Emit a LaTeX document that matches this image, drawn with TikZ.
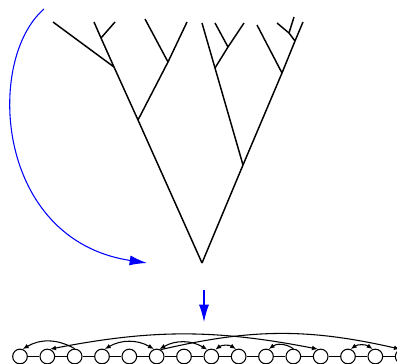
\documentclass[tikz,border=0pt]{standalone}
\usetikzlibrary{arrows.meta,positioning}
\tikzset{
  branch/.style={line width=1.1pt},
  cell/.style={draw,circle,minimum size=11pt,inner sep=0pt,line width=0.8pt},
  link/.style={-{Latex[length=4.5pt,width=3.5pt]},line width=0.8pt},
  twolink/.style={{Latex[length=4.5pt,width=3.5pt]}-{Latex[length=4.5pt,width=3.5pt]},line width=0.8pt},
  maparr/.style={-{Latex[length=13pt,width=7.5pt]},blue,line width=0.8pt}
}
\begin{document}
\begin{tikzpicture}[x=0.75pt,y=-0.75pt,node distance=8.7pt]
\useasboundingbox (0,0) rectangle (397,364);
% the tree
\coordinate (root) at (202,263);
\coordinate (a) at (138,120);
\coordinate (b) at (114,67);
\coordinate (d) at (101,38);
\coordinate (c) at (168,62);
\coordinate (l1) at (53,22);
\coordinate (l2) at (94,22);
\coordinate (l3) at (115,22);
\coordinate (l4) at (145,19);
\coordinate (l5) at (187,22);
\coordinate (f) at (243,165);
\coordinate (e) at (215,68);
\coordinate (j) at (228,47);
\coordinate (g) at (282,73);
\coordinate (h) at (295,41);
\coordinate (i) at (289,33);
\coordinate (l6) at (202,23);
\coordinate (l7) at (215,23);
\coordinate (l8) at (244,23);
\coordinate (l9) at (257,25);
\coordinate (l10) at (277,23);
\coordinate (l11) at (294,17);
\coordinate (l12) at (303,22);
\draw[branch] (root) -- (a) -- (b) -- (d) -- (l2);
\draw[branch] (b) -- (l1);
\draw[branch] (d) -- (l3);
\draw[branch] (a) -- (c) -- (l5);
\draw[branch] (c) -- (l4);
\draw[branch] (root) -- (f) -- (g) -- (h) -- (l12);
\draw[branch] (f) -- (e) -- (l6);
\draw[branch] (e) -- (j) -- (l8);
\draw[branch] (j) -- (l7);
\draw[branch] (g) -- (l9);
\draw[branch] (h) -- (i) -- (l10);
\draw[branch] (i) -- (l11);

% mapping arrows
\coordinate (from) at (44,9);
\coordinate (to) at (147,263);
\draw[maparr] (from) .. controls (-15,60) and (-5,240) .. (to);
\coordinate (down0) at (204,290);
\coordinate (down1) at (204,322);
\draw[maparr] (down0) -- (down1);

% the array
\node[cell] (c0) at (20,356.5) {};
\node[cell,right=of c0] (c1) {};
\node[cell,right=of c1] (c2) {};
\node[cell,right=of c2] (c3) {};
\node[cell,right=of c3] (c4) {};
\node[cell,right=of c4] (c5) {};
\node[cell,right=of c5] (c6) {};
\node[cell,right=of c6] (c7) {};
\node[cell,right=of c7] (c8) {};
\node[cell,right=of c8] (c9) {};
\node[cell,right=of c9] (c10) {};
\node[cell,right=of c10] (c11) {};
\node[cell,right=of c11] (c12) {};
\node[cell,right=of c12] (c13) {};
\node[cell,right=of c13] (c14) {};
\draw[line width=0.8pt] (c0) -- (c1) -- (c2) -- (c3) -- (c4) -- (c5) -- (c6) -- (c7)
  -- (c8) -- (c9) -- (c10) -- (c11) -- (c12) -- (c13) -- (c14);
\draw[link] (c2.north) to[bend right=30] (c0.70);
\draw[twolink] (c1.70) to[bend left=11] (c11.110);
\draw[twolink] (c3.70) to[bend left=30] (c5.110);
\draw[twolink] (c5.70) to[bend left=30] (c7.120);
\draw[link] (c5.60) to[bend left=13] (c14.110);
\draw[twolink] (c7.60) to[bend left=35] (c8.110);
\draw[link] (c10.north) to[bend right=35] (c9.70);
\draw[twolink] (c12.70) to[bend left=35] (c13.110);
\end{tikzpicture}
\end{document}
